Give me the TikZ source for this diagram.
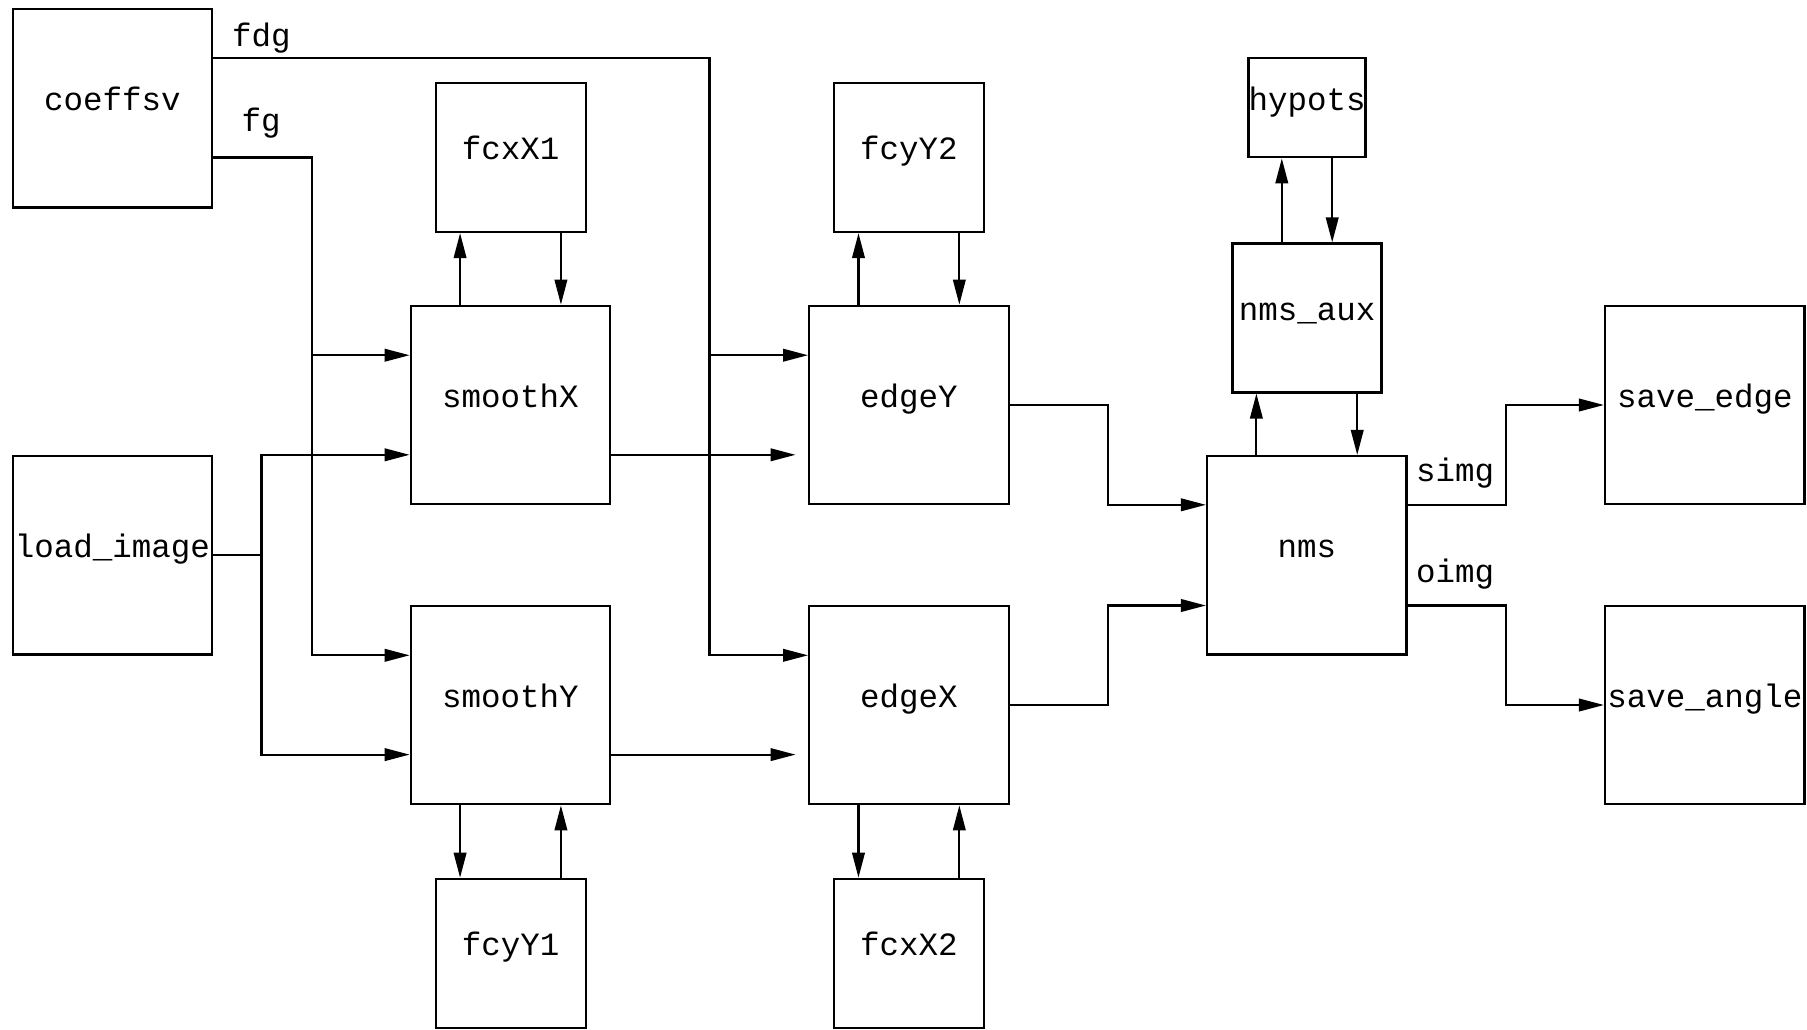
\documentclass[tikz,border=0pt]{standalone}
\usepackage{fontspec}
\setmainfont{Liberation Mono}
\usetikzlibrary{arrows.meta,calc}
\begin{document}
\begin{tikzpicture}[x=1pt,y=-1pt,
  box/.style={draw, line width=2.2pt, inner sep=0pt, text height=4.6pt, text depth=0pt,
    font=\fontsize{32.5}{36}\selectfont},
  bigbox/.style={box, minimum width=199.5pt, minimum height=198.5pt},
  smallbox/.style={box, minimum width=150pt, minimum height=148.8pt},
  lbl/.style={anchor=base west, inner sep=0pt, font=\fontsize{32.5}{36}\selectfont},
  wire/.style={line width=2.2pt},
  arr/.style={wire, -{Triangle[length=25pt,width=12.5pt]}}]
\useasboundingbox (0,0) rectangle (1807,1029);

% nodes
\node[bigbox] (coeffsv) at (112.5,108.2) {coeffsv};
\node[bigbox] (load_image) at (112.5,555.3) {load\_image};
\node[bigbox] (smoothX) at (510.5,405) {smoothX};
\node[bigbox] (smoothY) at (510.5,705) {smoothY};
\node[bigbox] (edgeY) at (908.9,405) {edgeY};
\node[bigbox] (edgeX) at (908.9,705) {edgeX};
\node[bigbox] (nms) at (1306.8,555.3) {nms};
\node[bigbox] (save_edge) at (1704.8,405) {save\_edge};
\node[bigbox] (save_angle) at (1704.8,705) {save\_angle};
\node[smallbox] (fcxX1) at (510.6,157.6) {fcxX1};
\node[smallbox] (fcyY2) at (908.8,157.6) {fcyY2};
\node[smallbox] (fcyY1) at (510.6,953.2) {fcyY1};
\node[smallbox] (fcxX2) at (908.8,953.2) {fcxX2};
\node[box, minimum width=149pt, minimum height=148.9pt] (nms_aux) at (1307,318) {nms\_aux};
\node[box, minimum width=99.5pt, minimum height=98.9pt] (hypots) at (1307,107.8) {hypots};

% labels
\node[lbl] (lfdg) at (232,46.5) {fdg};
\node[lbl] (lfg) at (241.5,131.8) {fg};
\node[lbl] (lsimg) at (1416,481) {simg};
\node[lbl] (loimg) at (1416,582.5) {oimg};

% bus coordinates
\coordinate (fdgturn) at (709.5,58.3);
\coordinate (fdgtap) at (709.5,355.2);
\coordinate (fdgend) at (709.5,655.3);
\coordinate (fgturn) at (311.6,157.4);
\coordinate (fgtap) at (311.6,355.2);
\coordinate (fgend) at (311.6,655.3);
\coordinate (ljunc) at (261.4,555.3);
\coordinate (ltop) at (261.4,454.8);
\coordinate (lbot) at (261.4,754.6);
\coordinate (bendA) at (1107.7,504.8);
\coordinate (bendB) at (1107.7,605.5);
\coordinate (bendC) at (1505.9,504.8);
\coordinate (bendD) at (1505.9,605.5);

% coeffsv outputs
\draw[arr] (coeffsv.east |- fdgturn) -- (fdgturn) -- (fdgend) -- (edgeX.west |- fdgend);
\draw[arr] (fdgtap) -- (edgeY.west |- fdgtap);
\draw[arr] (coeffsv.east |- fgturn) -- (fgturn) -- (fgend) -- (smoothY.west |- fgend);
\draw[arr] (fgtap) -- (smoothX.west |- fgtap);

% load_image outputs
\draw[wire] (load_image.east) -- (ljunc);
\draw[arr] (ljunc) -- (ltop) -- (smoothX.west |- ltop);
\draw[arr] (ljunc) -- (lbot) -- (smoothY.west |- lbot);

% smooth -> edge
\draw[arr, shorten >=12.5pt] (smoothX.east |- ltop) -- (edgeY.west |- ltop);
\draw[arr, shorten >=12.5pt] (smoothY.east |- lbot) -- (edgeX.west |- lbot);

% edge -> nms
\draw[arr] (edgeY.east) -| (bendA) -- (nms.west |- bendA);
\draw[arr] (edgeX.east) -| (bendB) -- (nms.west |- bendB);

% nms -> save
\draw[arr] (nms.east |- bendC) -- (bendC) |- (save_edge.west);
\draw[arr] (nms.east |- bendD) -- (bendD) |- (save_angle.west);

% loops with helpers
\coordinate (sxa) at ($(smoothX.north west)!0.25!(smoothX.north east)$);
\coordinate (sxb) at ($(smoothX.north west)!0.75!(smoothX.north east)$);
\draw[arr] (sxa) -- (sxa |- fcxX1.south);
\draw[arr] (sxb |- fcxX1.south) -- (sxb);

\coordinate (sya) at ($(smoothY.south west)!0.25!(smoothY.south east)$);
\coordinate (syb) at ($(smoothY.south west)!0.75!(smoothY.south east)$);
\draw[arr] (sya) -- (sya |- fcyY1.north);
\draw[arr] (syb |- fcyY1.north) -- (syb);

\coordinate (eya) at ($(edgeY.north west)!0.25!(edgeY.north east)$);
\coordinate (eyb) at ($(edgeY.north west)!0.75!(edgeY.north east)$);
\draw[arr] (eya) -- (eya |- fcyY2.south);
\draw[arr] (eyb |- fcyY2.south) -- (eyb);

\coordinate (exa) at ($(edgeX.south west)!0.25!(edgeX.south east)$);
\coordinate (exb) at ($(edgeX.south west)!0.75!(edgeX.south east)$);
\draw[arr] (exa) -- (exa |- fcxX2.north);
\draw[arr] (exb |- fcxX2.north) -- (exb);

\coordinate (na) at ($(nms.north west)!0.25!(nms.north east)$);
\coordinate (nb) at ($(nms.north west)!0.75!(nms.north east)$);
\draw[arr] (na) -- (na |- nms_aux.south);
\draw[arr] (nb |- nms_aux.south) -- (nb);

\coordinate (ha) at ($(nms_aux.north west)!0.3333!(nms_aux.north east)$);
\coordinate (hb) at ($(nms_aux.north west)!0.6667!(nms_aux.north east)$);
\draw[arr] (ha) -- (ha |- hypots.south);
\draw[arr] (hb |- hypots.south) -- (hb);
\end{tikzpicture}
\end{document}
